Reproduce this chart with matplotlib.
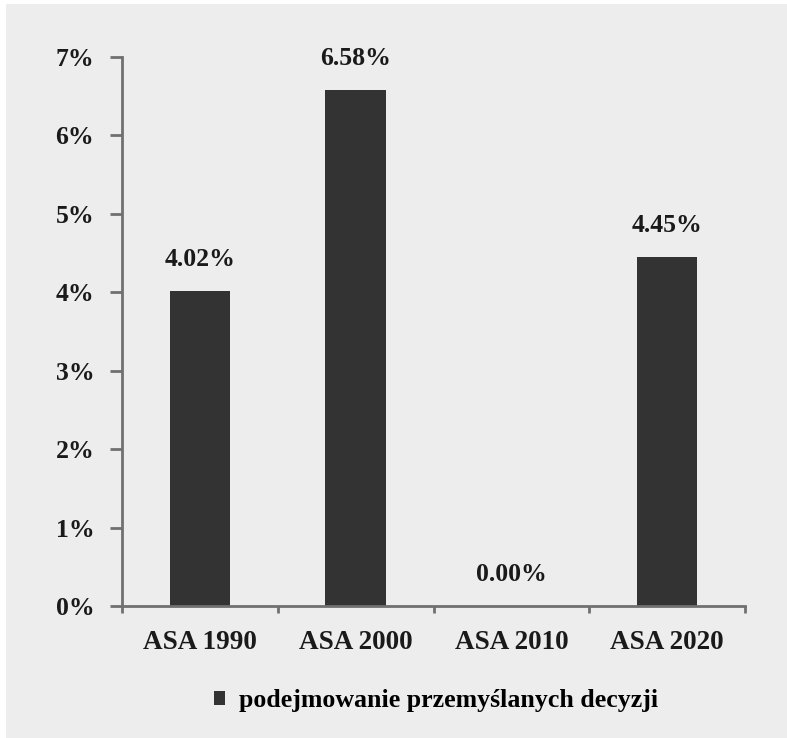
import matplotlib
matplotlib.use("Agg")
import matplotlib.pyplot as plt
from matplotlib.patches import Rectangle, Patch
from matplotlib.ticker import FuncFormatter, FixedLocator

categories = ["ASA 1990", "ASA 2000", "ASA 2010", "ASA 2020"]
values = [4.02, 6.58, 0.00, 4.45]
series_name = "podejmowanie przemyślanych decyzji"
yticks = [0, 1, 2, 3, 4, 5, 6, 7]

font = "Liberation Serif"
bar_color = "#333333"
bg = "#ededed"
spine_color = "#707070"

fig = plt.figure(figsize=(7.87, 7.38), dpi=100, facecolor="white")
fig.patches.append(Rectangle((6 / 787, 0), 1 - 6 / 787, 1 - 4 / 738,
                             transform=fig.transFigure, facecolor=bg,
                             edgecolor="none", zorder=-10))

ax = fig.add_axes([122 / 787, 1 - 606 / 738, (745 - 122) / 787, (606 - 57) / 738])
ax.set_facecolor("none")
ax.set_zorder(2)

x = list(range(len(categories)))
bars = ax.bar(x, values, width=0.39, color=bar_color, zorder=2)

for xi, v in zip(x, values):
    ax.annotate(f"{v:.2f}%", (xi, v), xytext=(0, 18), textcoords="offset points",
                ha="center", va="baseline", fontsize=18.5, fontweight="bold",
                family=font, color="#1a1a1a")

ax.set_xlim(-0.5, len(categories) - 0.5)
ax.set_ylim(0, 7)

ax.set_yticks(yticks)
ax.yaxis.set_major_formatter(FuncFormatter(lambda v, p: f"{int(round(v))}%"))

ax.xaxis.set_major_locator(FixedLocator([i - 0.5 for i in range(len(categories) + 1)]))
ax.xaxis.set_major_formatter(FuncFormatter(lambda v, p: ""))
ax.xaxis.set_minor_locator(FixedLocator(x))
ax.set_xticklabels(categories, minor=True)

ax.tick_params(axis="y", direction="out", length=9, width=2, color=spine_color,
               pad=11, labelsize=18.5, labelcolor="#1a1a1a")
ax.tick_params(axis="x", which="major", direction="out", length=5, width=2,
               color=spine_color)
ax.tick_params(axis="x", which="minor", length=0, pad=17, labelsize=19.5,
               labelcolor="#1a1a1a")
for lab in ax.get_yticklabels() + ax.get_xticklabels(minor=True):
    lab.set_family(font)
    lab.set_fontweight("bold")

for s in ["top", "right"]:
    ax.spines[s].set_visible(False)
for s in ["left", "bottom"]:
    ax.spines[s].set_color(spine_color)
    ax.spines[s].set_linewidth(2)

handle = Patch(facecolor=bar_color, edgecolor="none")
fig.legend([handle], [series_name], loc="center", bbox_to_anchor=(436 / 787, 1 - 701 / 738),
           frameon=False, handlelength=0.45, handleheight=0.45, handletextpad=0.55,
           prop={"family": font, "weight": "bold", "size": 18.6})

fig.savefig("out.png", dpi=100, facecolor="white")
